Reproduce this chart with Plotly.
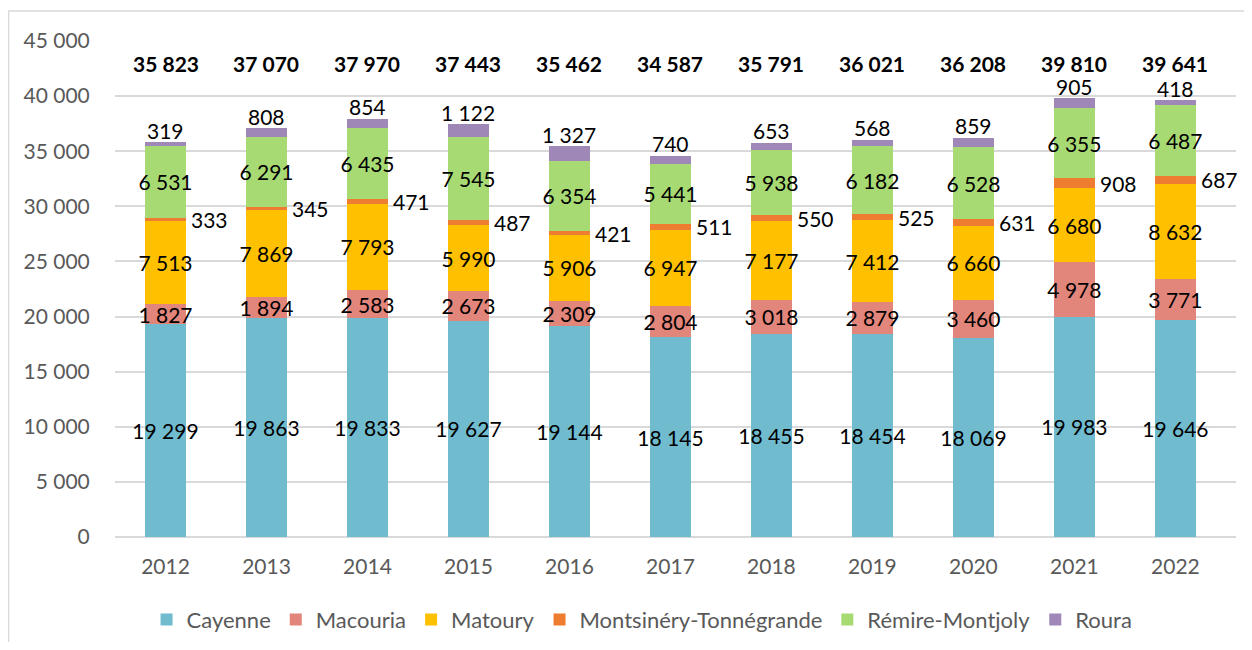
import plotly.graph_objects as go
import numpy as np

years = ["2012", "2013", "2014", "2015", "2016", "2017", "2018", "2019", "2020", "2021", "2022"]
cayenne = [19299, 19863, 19833, 19627, 19144, 18145, 18455, 18454, 18069, 19983, 19646]
macouria = [1827, 1894, 2583, 2673, 2309, 2804, 3018, 2879, 3460, 4978, 3771]
matoury = [7513, 7869, 7793, 5990, 5906, 6947, 7177, 7412, 6660, 6680, 8632]
montsinery = [333, 345, 471, 487, 421, 511, 550, 525, 631, 908, 687]
remire = [6531, 6291, 6435, 7545, 6354, 5441, 5938, 6182, 6528, 6355, 6487]
roura = [319, 808, 854, 1122, 1327, 740, 653, 568, 859, 905, 418]
totals = [35823, 37070, 37970, 37443, 35462, 34587, 35791, 36021, 36208, 39810, 39641]

names = ["Cayenne", "Macouria", "Matoury", "Montsinéry-Tonnégrande", "Rémire-Montjoly", "Roura"]
colors = ["#71BBCF", "#E2857B", "#FFC000", "#EE7D31", "#A8DA74", "#9F88B8"]
series = [cayenne, macouria, matoury, montsinery, remire, roura]

FONT = "Lato"
LBL = 21
fig = go.Figure()
for i, (nm, col, vals) in enumerate(zip(names, colors, series)):
    inside = nm not in ("Montsinéry-Tonnégrande", "Roura")
    fig.add_trace(go.Bar(
        x=years, y=vals, name=nm, marker=dict(color=col, line=dict(width=0)),
        texttemplate="%{y:,}" if inside else None,
        textposition="inside" if inside else "none",
        insidetextanchor="middle", textangle=0, constraintext="none",
        insidetextfont=dict(color="black", size=LBL, family=FONT),
        hoverinfo="skip",
    ))

def fmt(v):
    return f"{v:,}".replace(",", " ")

cum = np.zeros(len(years))
for vals in series[:3]:
    cum = cum + np.array(vals)
mont_mid = cum + np.array(montsinery) / 2
tops = cum + np.array(montsinery) + np.array(remire) + np.array(roura)

annotations = []
for i, y in enumerate(years):
    annotations.append(dict(x=i + 0.2, y=mont_mid[i], xref="x", yref="y", text=fmt(montsinery[i]),
                            showarrow=False, xanchor="left", yanchor="middle", xshift=3,
                            font=dict(size=LBL, color="black", family=FONT)))
    annotations.append(dict(x=i, y=tops[i], xref="x", yref="y", text=fmt(roura[i]),
                            showarrow=False, xanchor="center", yanchor="middle", yshift=12,
                            font=dict(size=LBL, color="black", family=FONT)))
    annotations.append(dict(x=i, y=43000, xref="x", yref="y", text="<b>" + fmt(totals[i]) + "</b>",
                            showarrow=False, xanchor="center", yanchor="middle",
                            font=dict(size=LBL, color="black", family=FONT)))

fig.update_layout(
    barmode="stack", bargap=0.6,
    width=1236, height=634,
    margin=dict(l=107, r=8, t=33, b=105, autoexpand=False),
    paper_bgcolor="white", plot_bgcolor="white",
    separators=", ",
    font=dict(family=FONT, size=21, color="#595959"),
    annotations=annotations,
    legend=dict(orientation="h", xref="container", yref="container", x=0.513, xanchor="center",
                y=0.035, yanchor="middle",
                font=dict(size=22, color="#595959", family=FONT), itemwidth=30,
                traceorder="normal"),
    shapes=[dict(type="rect", xref="paper", yref="paper", x0=-0.0950, x1=1.2, y0=-0.5, y1=1.0605,
                 line=dict(color="#D9D9D9", width=1.5), fillcolor="rgba(0,0,0,0)", layer="below")],
)
fig.update_xaxes(type="category", range=[-0.5, 10.6], showgrid=False, showline=False,
                 ticks="outside", ticklen=11, tickcolor="rgba(0,0,0,0)",
                 tickfont=dict(size=21, color="#595959", family=FONT))
fig.update_yaxes(range=[0, 45000], dtick=5000, tickformat=",", showgrid=True, gridcolor="#D9D9D9",
                 gridwidth=1.5, zeroline=True, zerolinecolor="#D9D9D9", zerolinewidth=1.5,
                 ticks="outside", ticklen=20, tickcolor="rgba(0,0,0,0)",
                 tickfont=dict(size=21, color="#595959", family=FONT))

fig.write_html("out.html")
